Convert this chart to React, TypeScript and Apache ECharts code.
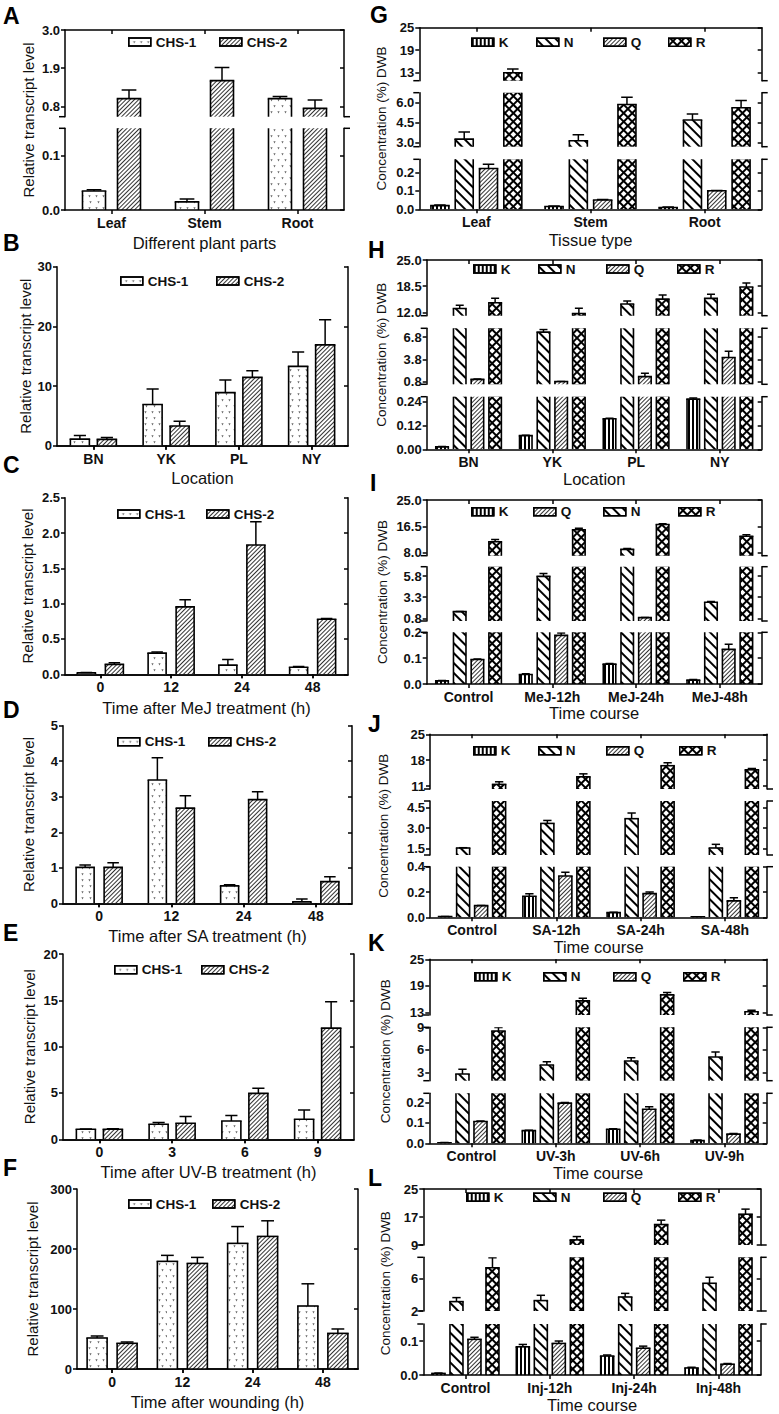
import React, { useEffect, useRef } from "react";
import * as echarts from "echarts";

const FONT = '"Liberation Sans", Arial, Helvetica, sans-serif';
const INK = "#111";

// ---------------- DATA ----------------
const chsNames = ["CHS-1", "CHS-2"];
const compNames = ["K", "N", "Q", "R"];

// A
const aCats = ["Leaf", "Stem", "Root"];
const aChs1 = [0.035, 0.015, 1.02];
const aChs1Err = [0.002, 0.005, 0.06];
const aChs2 = [1.02, 1.54, 0.74];
const aChs2Err = [0.25, 0.38, 0.24];
const aTicksUpper = ["0.8", "1.9", "3.0"];
const aTicksLower = ["0.0", "0.1"];

// B
const bCats = ["BN", "YK", "PL", "NY"];
const bChs1 = [1.1, 6.9, 8.9, 13.3];
const bChs1Err = [0.6, 2.6, 2.1, 2.4];
const bChs2 = [1.06, 3.3, 11.45, 16.9];
const bChs2Err = [0.3, 0.8, 1.1, 4.2];
const bTicks = ["0", "10", "20", "30"];

// C
const cCats = ["0", "12", "24", "48"];
const cChs1 = [0.02, 0.3, 0.13, 0.1];
const cChs1Err = [0.005, 0.015, 0.08, 0.012];
const cChs2 = [0.14, 0.955, 1.83, 0.78];
const cChs2Err = [0.025, 0.1, 0.33, 0.01];
const cTicks = ["0.0", "0.5", "1.0", "1.5", "2.0", "2.5"];

// D
const dCats = ["0", "12", "24", "48"];
const dChs1 = [1.01, 3.47, 0.49, 0.04];
const dChs1Err = [0.07, 0.63, 0.03, 0.08];
const dChs2 = [1.01, 2.68, 2.92, 0.61];
const dChs2Err = [0.13, 0.35, 0.22, 0.14];
const dTicks = ["0", "1", "2", "3", "4", "5"];

// E
const eCats = ["0", "3", "6", "9"];
const eChs1 = [1.08, 1.62, 1.98, 2.16];
const eChs1Err = [0.02, 0.18, 0.6, 1.0];
const eChs2 = [1.08, 1.73, 4.96, 12.0];
const eChs2Err = [0.07, 0.72, 0.54, 2.85];
const eTicks = ["0", "5", "10", "15", "20"];

// F
const fCats = ["0", "12", "24", "48"];
const fChs1 = [51.7, 179.4, 209.4, 105];
const fChs1Err = [3.3, 10, 28, 37];
const fChs2 = [42.8, 176, 221, 59.4];
const fChs2Err = [2.2, 10, 26, 7.3];
const fTicks = ["0", "100", "200", "300"];

// G
const gCats = ["Leaf", "Stem", "Root"];
const gK = [0.02, 0.015, 0.01];
const gKErr = [0.003, 0.003, 0.002];
const gN = [3.27, 3.15, 4.7];
const gNErr = [0.53, 0.45, 0.45];
const gQ = [0.22, 0.05, 0.1];
const gQErr = [0.023, 0.003, 0.002];
const gR = [12.9, 5.87, 5.62];
const gRErr = [1.0, 0.53, 0.55];
const gTicks = [["13", "19", "25"], ["3.0", "4.5", "6.0"], ["0.0", "0.1", "0.2"]];

// H
const hCats = ["BN", "YK", "PL", "NY"];
const hK = [0.012, 0.069, 0.154, 0.253];
const hKErr = [0.002, 0.002, 0.003, 0.005];
const hN = [13.0, 7.48, 14.1, 15.5];
const hNErr = [0.8, 0.37, 0.75, 1.0];
const hQ = [1.12, 0.82, 1.48, 4.07];
const hQErr = [0.03, 0.02, 0.45, 0.82];
const hR = [14.4, 11.75, 15.3, 18.3];
const hRErr = [1.1, 1.3, 1.0, 1.0];
const hTicks = [["12.0", "18.5", "25.0"], ["0.8", "3.8", "6.8"], ["0.00", "0.12", "0.24"]];

// I
const iCats = ["Control", "MeJ-12h", "MeJ-24h", "MeJ-48h"];
const iK = [0.012, 0.037, 0.077, 0.015];
const iKErr = [0.002, 0.003, 0.002, 0.002];
const iN = [1.59, 5.76, 9.06, 2.7];
const iNErr = [0.02, 0.35, 0.3, 0.1];
const iQ = [0.095, 0.188, 0.88, 0.134];
const iQErr = [0.002, 0.009, 0.01, 0.02];
const iR = [11.5, 15.4, 17.1, 13.3];
const iRErr = [0.75, 0.45, 0.25, 0.45];
const iTicks = [["8.0", "16.5", "25.0"], ["0.8", "3.3", "5.8"], ["0.0", "0.1", "0.2"]];

// J
const jCats = ["Control", "SA-12h", "SA-24h", "SA-48h"];
const jK = [0.005, 0.166, 0.037, 0.004];
const jKErr = [0.001, 0.021, 0.003, 0.001];
const jN = [1.52, 3.34, 3.69, 1.52];
const jNErr = [0.02, 0.22, 0.42, 0.27];
const jQ = [0.092, 0.326, 0.187, 0.13];
const jQErr = [0.002, 0.03, 0.013, 0.025];
const jR = [11.45, 13.5, 16.5, 15.4];
const jRErr = [0.7, 0.8, 0.8, 0.35];
const jTicks = [["11", "18", "25"], ["1.5", "3.0", "4.5"], ["0.0", "0.2", "0.4"]];

// K
const kCats = ["Control", "UV-3h", "UV-6h", "UV-9h"];
const kK = [0.003, 0.062, 0.069, 0.013];
const kKErr = [0.001, 0.002, 0.002, 0.003];
const kN = [2.82, 4.01, 4.54, 5.07];
const kNErr = [0.62, 0.44, 0.44, 0.66];
const kQ = [0.107, 0.197, 0.167, 0.045];
const kQErr = [0.002, 0.003, 0.012, 0.003];
const kR = [8.51, 15.6, 16.95, 13.15];
const kRErr = [0.45, 0.6, 0.55, 0.3];
const kTicks = [["13", "19", "25"], ["3", "6", "9"], ["0.0", "0.1", "0.2"]];

// L
const lCats = ["Control", "Inj-12h", "Inj-24h", "Inj-48h"];
const lK = [0.005, 0.083, 0.056, 0.021];
const lKErr = [0.001, 0.007, 0.003, 0.002];
const lN = [3.17, 3.3, 3.75, 5.46];
const lNErr = [0.5, 0.66, 0.45, 0.75];
const lQ = [0.105, 0.093, 0.079, 0.032];
const lQErr = [0.006, 0.007, 0.006, 0.002];
const lR = [7.4, 10.46, 14.85, 17.8];
const lRErr = [1.25, 0.95, 1.25, 1.45];
const lTicks = [["9", "17", "25"], ["2", "6"], ["0.0", "0.1"]];

// ---------------- STYLES ----------------
const patternStyles: Record<string, any> = {
  "CHS-1": {
    color: "#fff",
    decal: {
      symbol: "triangle",
      symbolSize: 0.75,
      color: "#666",
      dashArrayX: [[3, 4], [0, 3.5, 3, 0.5]],
      dashArrayY: [3, 2.5],
      rotation: Math.PI,
    },
  },
  "CHS-2": {
    color: "#fff",
    decal: {
      symbol: "rect",
      symbolKeepAspect: false,
      color: "#333",
      dashArrayX: [1, 0],
      dashArrayY: [0.9, 1.4],
      rotation: -Math.PI / 4,
    },
  },
  K: {
    color: "#fff",
    decal: {
      symbol: "rect",
      symbolKeepAspect: false,
      color: "#000",
      dashArrayX: [1.1, 2.0],
      dashArrayY: [1, 0],
      rotation: 0,
    },
  },
  N: {
    color: "#fff",
    decal: {
      symbol: "rect",
      symbolKeepAspect: false,
      color: "#000",
      dashArrayX: [1, 0],
      dashArrayY: [1.6, 4.4],
      rotation: Math.PI / 4,
    },
  },
  Q: {
    color: "#fff",
    decal: {
      symbol: "rect",
      symbolKeepAspect: false,
      color: "#333",
      dashArrayX: [1, 0],
      dashArrayY: [0.9, 1.4],
      rotation: -Math.PI / 4,
    },
  },
  R: {
    color: "#000",
    decal: {
      symbol: "rect",
      symbolKeepAspect: false,
      color: "#fff",
      dashArrayX: [3.2, 1.5],
      dashArrayY: [3.2, 1.5],
      rotation: Math.PI / 4,
    },
  },
};

type Seg = { top: number; bottom: number; min: number; max: number; ticks: string[] };
type Panel = {
  letter: string;
  letterX: number;
  letterY: number;
  yTitle: string;
  yTitleX: number;
  yTitleSize: number;
  left: number;
  right: number;
  segs: Seg[];
  cats: string[];
  xTitle: string;
  xTitleY: number;
  names: string[];
  values: number[][];
  errors: number[][];
  barWidth: number;
  gap: number;
  legendY: number;
  legendX: number[];
  legendOrder: string[];
};

const LEFT_TITLE = "Relative transcript level";
const RIGHT_TITLE = "Concentration (%) DWB";

const panels: Panel[] = [
  {
    letter: "A", letterX: 3, letterY: 16, yTitle: LEFT_TITLE, yTitleX: 28, yTitleSize: 15,
    left: 65, right: 344,
    segs: [
      { top: 30, bottom: 116.7, min: 0.5, max: 3.0, ticks: aTicksUpper },
      { top: 128.3, bottom: 210, min: 0, max: 0.15, ticks: aTicksLower },
    ],
    cats: aCats, xTitle: "Different plant parts", xTitleY: 243,
    names: chsNames, values: [aChs1, aChs2], errors: [aChs1Err, aChs2Err],
    barWidth: 23, gap: 12, legendY: 43, legendX: [128, 219], legendOrder: chsNames,
  },
  {
    letter: "B", letterX: 3, letterY: 242.5, yTitle: LEFT_TITLE, yTitleX: 25, yTitleSize: 15,
    left: 57, right: 348,
    segs: [{ top: 266.7, bottom: 445.7, min: 0, max: 30, ticks: bTicks }],
    cats: bCats, xTitle: "Location", xTitleY: 478.3,
    names: chsNames, values: [bChs1, bChs2], errors: [bChs1Err, bChs2Err],
    barWidth: 19, gap: 8, legendY: 282, legendX: [120, 216], legendOrder: chsNames,
  },
  {
    letter: "C", letterX: 3, letterY: 465, yTitle: LEFT_TITLE, yTitleX: 27, yTitleSize: 15,
    left: 65, right: 348,
    segs: [{ top: 497.7, bottom: 674.3, min: 0, max: 2.5, ticks: cTicks }],
    cats: cCats, xTitle: "Time after MeJ treatment (h)", xTitleY: 708.3,
    names: chsNames, values: [cChs1, cChs2], errors: [cChs1Err, cChs2Err],
    barWidth: 18, gap: 10, legendY: 515, legendX: [117, 206], legendOrder: chsNames,
  },
  {
    letter: "D", letterX: 3, letterY: 710, yTitle: LEFT_TITLE, yTitleX: 28, yTitleSize: 15,
    left: 63, right: 352,
    segs: [{ top: 725.7, bottom: 903.3, min: 0, max: 5, ticks: dTicks }],
    cats: dCats, xTitle: "Time after SA treatment (h)", xTitleY: 936,
    names: chsNames, values: [dChs1, dChs2], errors: [dChs1Err, dChs2Err],
    barWidth: 18, gap: 10, legendY: 742.7, legendX: [117, 208], legendOrder: chsNames,
  },
  {
    letter: "E", letterX: 3, letterY: 933, yTitle: LEFT_TITLE, yTitleX: 29, yTitleSize: 15,
    left: 63, right: 354,
    segs: [{ top: 954, bottom: 1139.3, min: 0, max: 20, ticks: eTicks }],
    cats: eCats, xTitle: "Time after UV-B treatment (h)", xTitleY: 1172,
    names: chsNames, values: [eChs1, eChs2], errors: [eChs1Err, eChs2Err],
    barWidth: 19, gap: 8, legendY: 970.7, legendX: [114, 201], legendOrder: chsNames,
  },
  {
    letter: "F", letterX: 3, letterY: 1168, yTitle: LEFT_TITLE, yTitleX: 32, yTitleSize: 15,
    left: 77, right: 358,
    segs: [{ top: 1189, bottom: 1369, min: 0, max: 300, ticks: fTicks }],
    cats: fCats, xTitle: "Time after wounding (h)", xTitleY: 1402,
    names: chsNames, values: [fChs1, fChs2], errors: [fChs1Err, fChs2Err],
    barWidth: 20, gap: 10, legendY: 1205, legendX: [128, 212], legendOrder: chsNames,
  },
  {
    letter: "G", letterX: 370, letterY: 14.5, yTitle: RIGHT_TITLE, yTitleX: 381, yTitleSize: 13.5,
    left: 419.3, right: 761.7,
    segs: [
      { top: 27.7, bottom: 80.7, min: 10.75, max: 25, ticks: gTicks[0] },
      { top: 92.7, bottom: 146.7, min: 2.7, max: 6.75, ticks: gTicks[1] },
      { top: 159.3, bottom: 209.3, min: 0, max: 0.27, ticks: gTicks[2] },
    ],
    cats: gCats, xTitle: "Tissue type", xTitleY: 240,
    names: compNames, values: [gK, gN, gQ, gR], errors: [gKErr, gNErr, gQErr, gRErr],
    barWidth: 18, gap: 6.3, legendY: 43.3, legendX: [471, 536, 603, 668], legendOrder: compNames,
  },
  {
    letter: "H", letterX: 368, letterY: 250, yTitle: RIGHT_TITLE, yTitleX: 381.5, yTitleSize: 13.5,
    left: 426.7, right: 761.7,
    segs: [
      { top: 260, bottom: 315.7, min: 11.2, max: 25, ticks: hTicks[0] },
      { top: 328.3, bottom: 384.3, min: 0.45, max: 8.0, ticks: hTicks[1] },
      { top: 396.7, bottom: 449.3, min: 0, max: 0.265, ticks: hTicks[2] },
    ],
    cats: hCats, xTitle: "Location", xTitleY: 478,
    names: compNames, values: [hK, hN, hQ, hR], errors: [hKErr, hNErr, hQErr, hRErr],
    barWidth: 12.5, gap: 5.2, legendY: 270, legendX: [473, 538, 606, 677], legendOrder: compNames,
  },
  {
    letter: "I", letterX: 370, letterY: 483, yTitle: RIGHT_TITLE, yTitleX: 382, yTitleSize: 13.5,
    left: 426.7, right: 761.7,
    segs: [
      { top: 500, bottom: 555.7, min: 7.0, max: 25, ticks: iTicks[0] },
      { top: 566.7, bottom: 621, min: 0.48, max: 6.9, ticks: iTicks[1] },
      { top: 632.3, bottom: 684, min: 0, max: 0.2, ticks: iTicks[2] },
    ],
    cats: iCats, xTitle: "Time course", xTitleY: 713,
    names: compNames, values: [iK, iN, iQ, iR], errors: [iKErr, iNErr, iQErr, iRErr],
    barWidth: 12.5, gap: 5.2, legendY: 512.7, legendX: [471, 533, 603, 678], legendOrder: ["K", "Q", "N", "R"],
  },
  {
    letter: "J", letterX: 368, letterY: 724, yTitle: RIGHT_TITLE, yTitleX: 383, yTitleSize: 13.5,
    left: 430, right: 767,
    segs: [
      { top: 734.3, bottom: 789, min: 10.2, max: 25, ticks: jTicks[0] },
      { top: 801, bottom: 855, min: 1.0, max: 5.0, ticks: jTicks[1] },
      { top: 866.7, bottom: 917.3, min: 0, max: 0.4, ticks: jTicks[2] },
    ],
    cats: jCats, xTitle: "Time course", xTitleY: 945,
    names: compNames, values: [jK, jN, jQ, jR], errors: [jKErr, jNErr, jQErr, jRErr],
    barWidth: 13, gap: 5, legendY: 751.7, legendX: [473, 538, 606, 679], legendOrder: compNames,
  },
  {
    letter: "K", letterX: 368, letterY: 943, yTitle: RIGHT_TITLE, yTitleX: 385, yTitleSize: 13.5,
    left: 429.3, right: 766.7,
    segs: [
      { top: 959.3, bottom: 1015, min: 12.4, max: 25, ticks: kTicks[0] },
      { top: 1027.3, bottom: 1080.7, min: 1.94, max: 9, ticks: kTicks[1] },
      { top: 1093.3, bottom: 1143.3, min: 0, max: 0.245, ticks: kTicks[2] },
    ],
    cats: kCats, xTitle: "Time course", xTitleY: 1173,
    names: compNames, values: [kK, kN, kQ, kR], errors: [kKErr, kNErr, kQErr, kRErr],
    barWidth: 13, gap: 5, legendY: 977.7, legendX: [474, 543, 613, 683], legendOrder: compNames,
  },
  {
    letter: "L", letterX: 368, letterY: 1178, yTitle: RIGHT_TITLE, yTitleX: 385, yTitleSize: 13.5,
    left: 423.3, right: 760.7,
    segs: [
      { top: 1189, bottom: 1245, min: 9, max: 25, ticks: lTicks[0] },
      { top: 1257.3, bottom: 1311, min: 2, max: 8.7, ticks: lTicks[1] },
      { top: 1324, bottom: 1377.3, min: 0, max: 0.15, ticks: lTicks[2] },
    ],
    cats: lCats, xTitle: "Time course", xTitleY: 1406.7,
    names: compNames, values: [lK, lN, lQ, lR], errors: [lKErr, lNErr, lQErr, lRErr],
    barWidth: 13, gap: 5, legendY: 1198.3, legendX: [466, 533, 603, 678], legendOrder: compNames,
  },
];

const axisLineStyle = { color: "#000", width: 1.5 };
const OUTLINE = 1.6;

function buildOption(): any {
  const grid: any[] = [];
  const xAxis: any[] = [];
  const yAxis: any[] = [];
  const series: any[] = [];
  const legend: any[] = [];
  const graphic: any[] = [];

  panels.forEach((p) => {
    const n = p.names.length;
    const total = n * p.barWidth + (n - 1) * p.gap;
    const offsets = p.names.map((_, i) => -total / 2 + p.barWidth / 2 + i * (p.barWidth + p.gap));
    const cap = p.barWidth * 0.32;
    const half = p.barWidth / 2;

    p.segs.forEach((s, si) => {
      const gi = grid.length;
      const isTop = si === 0;
      const isBottom = si === p.segs.length - 1;
      grid.push({ left: p.left, top: s.top, width: p.right - p.left, height: s.bottom - s.top });

      const xb = xAxis.length;
      xAxis.push({
        gridIndex: gi, type: "category", data: p.cats, position: "bottom",
        axisLine: { show: isBottom, lineStyle: axisLineStyle },
        axisTick: { show: isBottom, alignWithLabel: true, length: 4, lineStyle: axisLineStyle },
        axisLabel: { show: isBottom, fontFamily: FONT, fontWeight: "bold", fontSize: 14, color: INK, margin: 6 },
        name: isBottom ? p.xTitle : "", nameLocation: "middle", nameGap: p.xTitleY - s.bottom - 8.5,
        nameTextStyle: { fontFamily: FONT, fontSize: 16.5, color: INK },
        splitLine: { show: false },
        z: 6,
      });
      xAxis.push({
        gridIndex: gi, type: "category", data: p.cats, position: "top",
        axisLine: { show: isTop, lineStyle: axisLineStyle },
        axisTick: { show: isTop, inside: true, alignWithLabel: true, length: 4, lineStyle: axisLineStyle },
        axisLabel: { show: false },
        splitLine: { show: false },
      });

      const tickVals = s.ticks.map(Number);
      const fmt = (v: number) => {
        const t = s.ticks.find((tt) => Math.abs(Number(tt) - v) < 1e-9);
        return t === undefined ? "" : t;
      };
      const yl = yAxis.length;
      yAxis.push({
        gridIndex: gi, type: "value", position: "left", min: s.min, max: s.max,
        axisLine: { show: true, lineStyle: axisLineStyle },
        axisTick: { show: true, length: 4, customValues: tickVals, lineStyle: axisLineStyle },
        axisLabel: { customValues: tickVals, formatter: fmt, fontFamily: FONT, fontWeight: "bold", fontSize: 13, color: INK, margin: 5 },
        splitLine: { show: false },
      });
      yAxis.push({
        gridIndex: gi, type: "value", position: "right", min: s.min, max: s.max,
        axisLine: { show: true, lineStyle: axisLineStyle },
        axisTick: { show: true, inside: true, length: 4, customValues: tickVals, lineStyle: axisLineStyle },
        axisLabel: { show: false },
        splitLine: { show: false },
      });

      p.names.forEach((nm, k) => {
        const st = patternStyles[nm];
        series.push({
          type: "bar", name: nm, xAxisIndex: xb, yAxisIndex: yl, data: p.values[k],
          barWidth: p.barWidth, barGap: (p.gap / p.barWidth) * 100 + "%",
          clip: true, silent: true,
          itemStyle: { color: st.color, borderColor: "#000", borderWidth: 0, decal: st.decal },
        });
      });

      // outlines (open where a bar is cut by an axis break) + error bars
      const errData: number[][] = [];
      p.names.forEach((_, k) => p.values[k].forEach((v, i) => errData.push([i, k, v, p.errors[k][i]])));
      series.push({
        type: "custom", xAxisIndex: xb, yAxisIndex: yl, clip: true, silent: true, z: 5,
        encode: { x: 0, y: 2 }, data: errData,
        renderItem: (_params: any, api: any) => {
          const i = api.value(0);
          const k = api.value(1);
          const v = api.value(2);
          const e = api.value(3);
          const base = api.coord([i, 0]);
          const vt = api.coord([i, v]);
          const x = base[0] + offsets[k];
          const style = { stroke: "#000", lineWidth: OUTLINE, fill: null };
          const children: any[] = [
            { type: "line", shape: { x1: x - half, y1: base[1], x2: x - half, y2: vt[1] }, style },
            { type: "line", shape: { x1: x + half, y1: base[1], x2: x + half, y2: vt[1] }, style },
          ];
          if (v >= s.min && v <= s.max) {
            children.push({ type: "line", shape: { x1: x - half - OUTLINE / 2, y1: vt[1], x2: x + half + OUTLINE / 2, y2: vt[1] }, style });
          }
          if (e) {
            const top = api.coord([i, v + e]);
            children.push({ type: "line", shape: { x1: x, y1: vt[1], x2: x, y2: top[1] }, style: { stroke: "#000", lineWidth: 1.5 } });
            children.push({ type: "line", shape: { x1: x - cap, y1: top[1], x2: x + cap, y2: top[1] }, style: { stroke: "#000", lineWidth: 1.5 } });
          }
          return { type: "group", children };
        },
      });

      // break caps
      const capYs: number[] = [];
      if (!isTop) capYs.push(s.top);
      if (!isBottom) capYs.push(s.bottom);
      capYs.forEach((y) => {
        graphic.push({ type: "line", silent: true, shape: { x1: p.left - 6, y1: y, x2: p.left, y2: y }, style: { stroke: "#000", lineWidth: 1.5 } });
        graphic.push({ type: "line", silent: true, shape: { x1: p.right, y1: y, x2: p.right + 6, y2: y }, style: { stroke: "#000", lineWidth: 1.5 } });
      });
    });

    p.legendOrder.forEach((nm, k) => {
      legend.push({
        show: true, left: p.legendX[k], top: p.legendY - 8, data: [nm], icon: "rect",
        itemWidth: 22, itemHeight: 8, padding: 0, selectedMode: false,
        itemStyle: { borderColor: "#000", borderWidth: 1.5 },
        textStyle: { fontFamily: FONT, fontWeight: "bold", fontSize: 13.5, color: INK },
      });
    });

    graphic.push({
      type: "text", silent: true, x: p.letterX, y: p.letterY,
      style: { text: p.letter, fontFamily: FONT, fontWeight: "bold", fontSize: 23, fill: "#000", align: "left", verticalAlign: "middle" },
    });
    const plotMid = (p.segs[0].top + p.segs[p.segs.length - 1].bottom) / 2;
    graphic.push({
      type: "text", silent: true, x: p.yTitleX, y: plotMid, rotation: Math.PI / 2,
      style: { text: p.yTitle, fontFamily: FONT, fontSize: p.yTitleSize, fill: INK, align: "center", verticalAlign: "middle" },
    });
  });

  return { animation: false, backgroundColor: "#fff", grid, xAxis, yAxis, series, legend, graphic };
}

export default function App() {
  const ref = useRef<HTMLDivElement>(null);
  useEffect(() => {
    if (!ref.current) return;
    const chart = echarts.init(ref.current, undefined, { renderer: "svg", width: 779, height: 1414 });
    chart.setOption(buildOption());
    return () => chart.dispose();
  }, []);
  return <div ref={ref} style={{ position: "absolute", left: 0, top: 0, width: 779, height: 1414, background: "#fff" }} />;
}
